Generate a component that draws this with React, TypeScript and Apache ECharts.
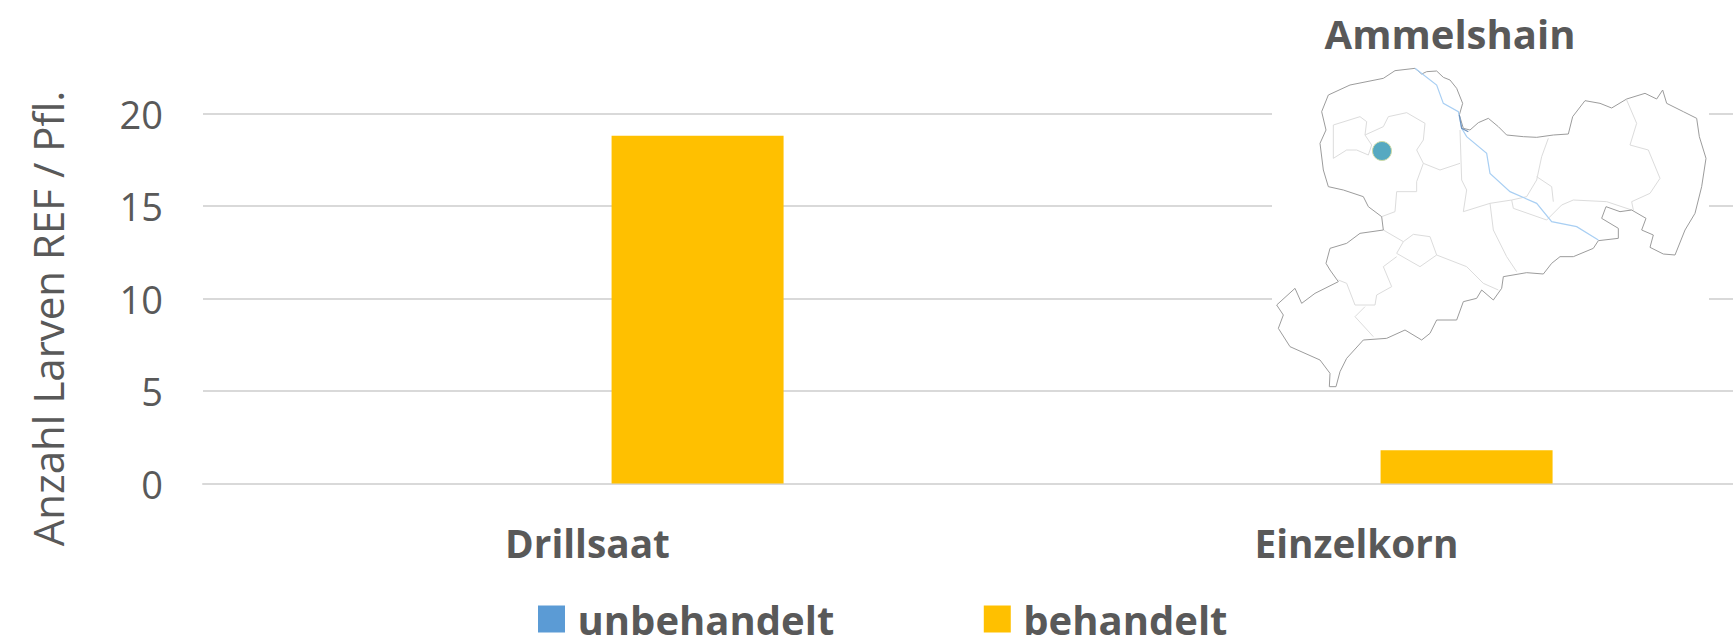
import React, { useEffect, useRef } from "react";
import * as echarts from "echarts";

const categories = ["Drillsaat", "Einzelkorn"];
const unbehandelt = [0, 0];
const behandelt = [18.8, 1.8];
const yTicks = { min: 0, max: 20, interval: 5 };
const FONT = "'Open Sans', sans-serif";
const TEXT = "#595959";

// Map decoration, traced in the coordinates of a 3x crop whose origin is (1240, 0)
const outline = [525,205,545,222,560,215,590,213,610,232,630,240,650,265,668,310,658,345,670,385,690,390,715,368,745,355,775,380,800,405,850,410,890,412,940,405,985,402,998,350,1035,302,1080,310,1115,324,1160,297,1215,280,1250,297,1268,270,1280,310,1330,335,1370,355,1378,410,1398,475,1385,560,1365,640,1335,690,1305,765,1270,762,1230,742,1240,705,1205,690,1218,655,1175,630,1140,635,1098,620,1085,655,1135,685,1135,715,1075,722,1060,745,1000,770,960,770,935,790,910,822,860,818,790,830,785,865,760,900,725,870,710,895,670,905,650,960,590,960,570,1000,545,1020,495,990,440,1015,370,1020,320,1075,300,1115,288,1160,268,1160,270,1120,240,1080,195,1060,150,1040,115,985,130,945,110,915,165,865,185,910,225,880,295,845,270,810,258,790,270,745,320,730,360,700,430,690,425,650,385,620,370,590,310,570,265,560,250,510,240,430,258,390,245,335,265,285,330,255,430,235,465,212,525,205];
const borders = [
  [280,375,360,350,380,365,375,405,430,380,445,350,500,338,555,370,550,420,530,450,550,490,530,545,530,575,470,575,465,635,425,650],
  [280,375,280,475,320,450,350,450,385,465,395,435,375,405],
  [550,490,600,510,660,490],
  [660,390,665,540,680,570,670,635,750,610,815,600],
  [750,610,760,690,800,770,830,815],
  [430,690,490,725,520,703,570,710,590,765,680,800,730,850,775,870],
  [490,725,470,760,540,800,590,765],
  [470,770,430,800,455,860,410,885,405,915,345,915,320,850,295,840],
  [375,920,345,950,400,1010],
  [925,415,905,470,890,540,860,590,815,600,820,625,920,660,965,615,1000,600,1100,605,1175,630],
  [890,530,935,560,940,605],
  [1160,300,1190,370,1170,435,1225,450,1260,535,1230,580,1175,605,1180,630],
];
const river = [525,205,590,255,610,310,655,335,665,385,680,410,740,460,750,520,810,575,890,610,935,665,1010,680,1075,720];
const riverDark = [658,345,665,385,685,395];

const toPoints = (flat: number[]) => {
  const pts: number[][] = [];
  for (let i = 0; i < flat.length; i += 2) pts.push([1240 + flat[i] / 3, flat[i + 1] / 3]);
  return pts;
};
const line = (flat: number[], stroke: string, lineWidth: number) => ({
  type: "polyline",
  z: 11,
  shape: { points: toPoints(flat) },
  style: { stroke, lineWidth, fill: "none" },
});

export default function App() {
  const ref = useRef<HTMLDivElement>(null);
  useEffect(() => {
    const chart = echarts.init(ref.current!, undefined, { renderer: "svg" });
    chart.setOption({
      animation: false,
      backgroundColor: "#fff",
      textStyle: { fontFamily: FONT },
      grid: { left: 203, top: 113.5, width: 1538, height: 370, containLabel: false },
      legend: {
        left: 533,
        top: 594,
        itemWidth: 27,
        itemHeight: 27,
        itemGap: 149.5,
        icon: "rect",
        data: ["unbehandelt", "behandelt"],
        textStyle: { fontFamily: FONT, fontWeight: "bold", fontSize: 40, lineHeight: 34, color: TEXT, padding: [0, 0, 0, 7.5] },
      },
      xAxis: {
        type: "category",
        data: categories,
        axisTick: { show: false },
        axisLine: { lineStyle: { color: "#D9D9D9", width: 2 } },
        axisLabel: { color: TEXT, fontFamily: FONT, fontWeight: "bold", fontSize: 38.8, margin: 40 },
      },
      yAxis: {
        type: "value",
        ...yTicks,
        name: "Anzahl Larven REF / Pfl.",
        nameLocation: "middle",
        nameGap: 135,
        nameTextStyle: { color: TEXT, fontFamily: FONT, fontSize: 42, padding: [0, 40, 0, 0] },
        axisLine: { show: false },
        axisTick: { show: false },
        axisLabel: { color: TEXT, fontFamily: FONT, fontSize: 38, margin: 40 },
        splitLine: { lineStyle: { color: "#D9D9D9", width: 2 } },
      },
      series: [
        { name: "unbehandelt", type: "bar", data: unbehandelt, barWidth: 172, barGap: "28%", itemStyle: { color: "#5B9BD5" } },
        { name: "behandelt", type: "bar", data: behandelt, barWidth: 172, barGap: "28%", itemStyle: { color: "#FFC000" } },
      ],
      graphic: [
        { type: "rect", z: 10, shape: { x: 1272, y: 60, width: 437, height: 328 }, style: { fill: "#fff" } },
        ...borders.map((b) => line(b, "#dcdcdc", 1)),
        line(outline, "#9c9c9c", 1),
        line(river, "#a9cff3", 1.2),
        line(riverDark, "#6f93bd", 1.2),
        { type: "circle", z: 12, shape: { cx: 1382, cy: 151, r: 9.5 }, style: { fill: "#56A9C1", stroke: "#cfdca8", lineWidth: 1 } },
        {
          type: "text",
          z: 12,
          x: 1450,
          y: 33,
          style: { text: "Ammelshain", fontFamily: FONT, fontWeight: "bold", fontSize: 40, fill: TEXT, align: "center", verticalAlign: "middle" },
        },
      ],
    });
    return () => chart.dispose();
  }, []);
  return (
    <div style={{ position: "fixed", left: 0, top: 0, width: 1733, height: 640, overflow: "hidden" }}>
      <div ref={ref} style={{ width: 1745, height: 640 }} />
    </div>
  );
}
